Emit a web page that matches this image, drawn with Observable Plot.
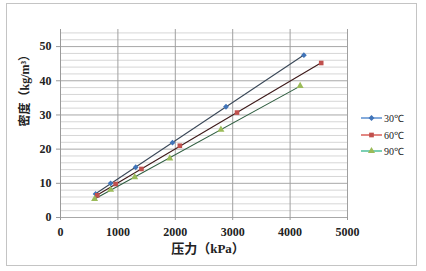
<!DOCTYPE html>
<html>
<head>
<meta charset="utf-8">
<script src="https://cdn.jsdelivr.net/npm/d3@7"></script>
<script src="https://cdn.jsdelivr.net/npm/@observablehq/plot@0.6"></script>
<style>
  html, body { margin: 0; padding: 0; background: #fff; }
  #chart { position: relative; width: 426px; height: 271px; }
  #chart > svg { font-family: "Liberation Serif", "Noto Sans CJK SC", serif !important; font-size: 12px !important; font-weight: bold; color: #222; }
  #frame { position: absolute; left: 6px; top: 3px; width: 409px; height: 261px; border: 1px solid #c4c4c4; pointer-events: none; }
  #legend { position: absolute; left: 360px; top: 110px; font-family: "Liberation Serif", serif; font-size: 10px; color: #222; }
  #legend .row { display: flex; align-items: center; height: 16.5px; }
  #legend svg { margin-right: 1px; }
</style>
</head>
<body>
<div id="chart">
  <div id="frame"></div>
  <div id="legend"></div>
</div>
<script>
// Gas density (kg/m³) against pressure (kPa) at three temperatures
const seriesNames = ["30℃", "60℃", "90℃"];
const pressure30 = [611, 873, 1310, 1951, 2883, 4240];
const density30  = [6.9, 10.0, 14.7, 21.9, 32.4, 47.5];
const pressure60 = [641, 961, 1410, 2079, 3075, 4542];
const density60  = [6.5, 9.8, 14.2, 21.0, 30.7, 45.2];
const pressure90 = [594, 873, 1293, 1904, 2795, 4175];
const density90  = [5.4, 8.1, 11.8, 17.3, 25.7, 38.5];

const xTicks = [0, 1000, 2000, 3000, 4000, 5000];
const yTicks = [0, 10, 20, 30, 40, 50];
const xLabel = "压力（kPa）";
const yLabel = "密度（kg/m³）";

const markerFill  = ["#4174b8", "#c0504d", "#9bbb59"];
const lineColor   = ["#3a4858", "#3e1a1a", "#2f5e40"];
const legendLine  = ["#5b8fd0", "#d9605a", "#4fbf9a"];
const symbols     = ["diamond2", "square", "triangle"];

const pressures = [pressure30, pressure60, pressure90];
const densities = [density30, density60, density90];

const rows = seriesNames.flatMap((name, i) =>
  pressures[i].map((p, j) => ({series: name, pressure: p, density: densities[i][j]}))
);

const minorY = d3.range(2, 55, 2).filter(v => v % 10 !== 0);
const serif = "'Liberation Serif', 'Noto Sans CJK SC', serif";

const marks = [
  Plot.gridY(minorY, {stroke: "#d6d6d6", strokeOpacity: 1}),
  Plot.gridY(yTicks, {stroke: "#a8a8a8", strokeOpacity: 1}),
  Plot.gridX(xTicks.slice(1), {stroke: "#a0a0a0", strokeOpacity: 1}),
  Plot.ruleX([0], {stroke: "#9a9a9a"}),
  Plot.axisY(yTicks, {tickSize: 4, tickPadding: 5, stroke: "#9a9a9a", fontFamily: serif, fontSize: 12, fontWeight: "bold", tickFormat: d => String(d)}),
  Plot.axisX(xTicks, {tickSize: 3, tickPadding: 7, stroke: "#9a9a9a", fontFamily: serif, fontSize: 12, fontWeight: "bold", tickFormat: d => String(d)}),
  Plot.text([xLabel], {frameAnchor: "bottom", dy: 35, dx: 4, fontSize: 13, fontFamily: serif, fontWeight: "bold"}),
  Plot.text([yLabel], {frameAnchor: "left", rotate: -90, dx: -35, dy: 3, fontSize: 12, fontFamily: serif, fontWeight: "bold"})
];

seriesNames.forEach((name, i) => {
  const subset = rows.filter(d => d.series === name);
  marks.push(Plot.linearRegressionY(subset, {x: "pressure", y: "density", stroke: lineColor[i], strokeWidth: 1.1, ci: 0}));
});
seriesNames.forEach((name, i) => {
  const subset = rows.filter(d => d.series === name);
  marks.push(Plot.dot(subset, {x: "pressure", y: "density", symbol: () => symbols[i], fill: markerFill[i], r: 2.6}));
});

const chart = Plot.plot({
  width: 426,
  height: 271,
  marginLeft: 60,
  marginRight: 79,
  marginTop: 29,
  marginBottom: 54,
  style: {background: "transparent"},
  x: {domain: [0, 5000], label: null},
  y: {domain: [0, 55], label: null},
  symbol: {type: "identity"},
  marks
});
document.getElementById("chart").prepend(chart);

// Legend
const legend = d3.select("#legend");
seriesNames.forEach((name, i) => {
  const row = legend.append("div").attr("class", "row");
  const svg = row.append("svg").attr("width", 23).attr("height", 10);
  svg.append("line").attr("x1", 1).attr("x2", 22).attr("y1", 5).attr("y2", 5)
    .attr("stroke", legendLine[i]).attr("stroke-width", 1.5);
  const sym = {diamond2: d3.symbolDiamond2, square: d3.symbolSquare, triangle: d3.symbolTriangle}[symbols[i]];
  svg.append("path").attr("transform", "translate(11.5,5)")
    .attr("d", d3.symbol(sym, 22)()).attr("fill", markerFill[i]);
  row.append("span").text(name);
});
</script>
</body>
</html>
